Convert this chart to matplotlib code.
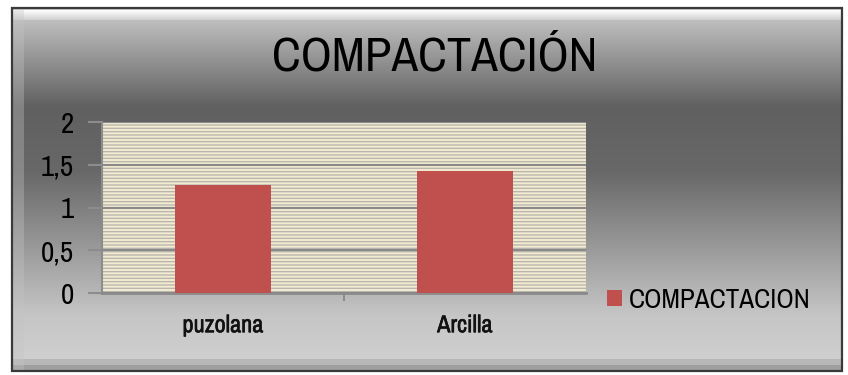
import numpy as np
import matplotlib
matplotlib.use("Agg")
import matplotlib.pyplot as plt
import matplotlib.patheffects as pe
from matplotlib.patches import Rectangle
from matplotlib.colors import LinearSegmentedColormap

categories = ["puzolana", "Arcilla"]
values = [1.26, 1.43]
series_name = "COMPACTACION"
title = "COMPACTACIÓN"
yticks = [0, 0.5, 1, 1.5, 2]
ytick_labels = ["0", "0,5", "1", "1,5", "2"]

FONT = ["Archivo Narrow", "Liberation Sans", "DejaVu Sans"]
plt.rcParams["font.family"] = FONT

W, H = 848, 375
fig = plt.figure(figsize=(W / 100, H / 100), dpi=100)
fig.patch.set_facecolor("white")

# background / frame in pixel coords
bg = fig.add_axes([0, 0, 1, 1], zorder=0)
bg.set_xlim(0, W)
bg.set_ylim(H, 0)
bg.axis("off")
x0, y0, x1, y1 = 12, 8, 842, 371
cmap = LinearSegmentedColormap.from_list(
    "g", [(0.0, "#cbcbcb"), (0.27, "#606060"), (0.45, "#686868"),
          (0.85, "#c6c6c6"), (1.0, "#d2d2d2")])
grad = np.linspace(0, 1, 256)[:, None]
bg.imshow(grad, cmap=cmap, extent=(x0, x1, y1, y0), aspect="auto", interpolation="bilinear")
# bevel: top highlight
top = LinearSegmentedColormap.from_list("t", ["#ffffff", "#d0d0d0"])
bg.imshow(np.linspace(0, 1, 32)[:, None], cmap=top, extent=(x0, x1, y0 + 12, y0 + 2),
          aspect="auto", interpolation="bilinear")
# bottom bevel
bg.add_patch(Rectangle((x0, y1 - 12), x1 - x0, 12, facecolor="#a9a9a9", lw=0, alpha=0.6))
bg.add_patch(Rectangle((x0, y1 - 6), x1 - x0, 6, facecolor="#8e8e8e", lw=0, alpha=0.6))
# left bevel
bg.add_patch(Rectangle((x0, y0), 12, y1 - y0, facecolor="#c4c4c4", lw=0, alpha=0.35))
bg.add_patch(Rectangle((x0, y0), x1 - x0, y1 - y0, facecolor="none",
                       edgecolor="#3a3a3a", lw=1.6))

# plot area
ax = fig.add_axes([102 / W, 1 - 293 / H, (586 - 102) / W, (293 - 122) / H], zorder=1)
ax.patch.set_facecolor("#f2e9cf")
ax.add_patch(Rectangle((0, 0), 1, 1, transform=ax.transAxes, facecolor="#f3ead2",
                       edgecolor="#b9b7ad", hatch="-----", lw=0, zorder=0))
x = np.arange(len(categories))
ax.bar(x, values, width=0.4, color="#c0504d", zorder=3, label=series_name)
ax.set_xlim(-0.5, len(categories) - 0.5)
ax.set_ylim(0, 2)
ax.set_yticks(yticks)
ax.set_yticklabels(ytick_labels, fontsize=21, color="black")
ax.yaxis.grid(True, color="#8a8a8a", lw=1.5, zorder=1)
ax.set_axisbelow(False)
ax.set_xticks(x)
ax.set_xticklabels(categories, fontsize=17.5, color="#111111")
for t in ax.get_xticklabels():
    t.set_path_effects([pe.withStroke(linewidth=0.4, foreground="#111111")])
ax.tick_params(axis="x", length=0, pad=16)
ax.set_xticks([0.5], minor=True)
ax.tick_params(axis="x", which="minor", length=6, color="#8c8c8c", width=1.5)
ax.tick_params(axis="y", length=10, color="#8c8c8c", width=1.5, pad=10)
for s in ["top", "right"]:
    ax.spines[s].set_visible(False)
ax.spines["left"].set_color("#8c8c8c")
ax.spines["left"].set_linewidth(1.5)
ax.spines["bottom"].set_color("#8a8a8a")
ax.spines["bottom"].set_linewidth(2)

fig.text(435 / W, 1 - 57 / H, title, ha="center", va="center", fontsize=35, color="black")

h, l = ax.get_legend_handles_labels()
fig.legend(h, l, loc="center left", bbox_to_anchor=(583 / W, 1 - 300 / H), frameon=False,
           fontsize=19.5, handlelength=0.55, handleheight=0.55, handletextpad=0.25)

fig.savefig("out.png", dpi=100)
